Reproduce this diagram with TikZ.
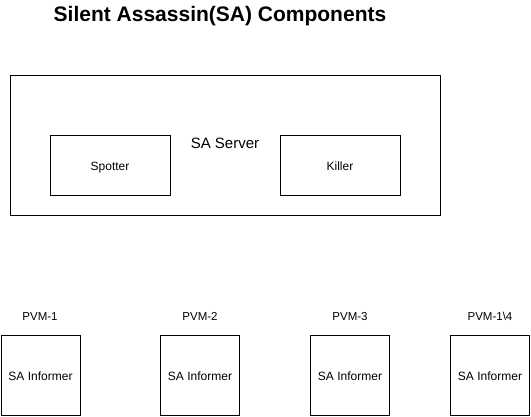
\documentclass[tikz,border=0pt]{standalone}
\usepackage{fontspec}
\setmainfont{Liberation Sans}
\usetikzlibrary{positioning}

\begin{document}
\begin{tikzpicture}[x=1pt,y=-1pt,
    box/.style={draw, line width=1pt, inner sep=0pt, text height=1.05em, text depth=0pt, font=\fontsize{12}{14}\selectfont},
    informer/.style={box, minimum width=79pt, minimum height=80pt},
    part/.style={box, minimum width=120pt, minimum height=60pt},
    tag/.style={inner sep=0pt, text height=0.72em, text depth=0.22em, font=\fontsize{11.5}{14}\selectfont}]
  \useasboundingbox (0,0) rectangle (531,416);

  \node[font=\bfseries\fontsize{21}{24}\selectfont] (title) at (220,16) {Silent Assassin(SA) Components};

  % server with its two parts
  \node[box, minimum width=430pt, minimum height=140pt] (server) at (225,145) {};
  \node[tag, font=\fontsize{15}{18}\selectfont] (srv) at (225,146) {SA Server};
  \node[part] (spotter) at (110,165) {Spotter};
  \node[part] (killer)  at (340,165) {Killer};

  % informers on the PVMs
  \node[informer] (inf1) at (40.5,375) {SA Informer};
  \node[informer] (inf2) at (200,375)  {SA Informer};
  \node[informer] (inf3) at (350,375)  {SA Informer};
  \node[informer] (inf4) at (490,375)  {SA Informer};

  \node[tag] (pvm1) at (40,318)  {PVM-1};
  \node[tag] (pvm2) at (200,318) {PVM-2};
  \node[tag] (pvm3) at (350,318) {PVM-3};
  \node[tag] (pvm4) at (490,318) {PVM-1\textbackslash 4};
\end{tikzpicture}
\end{document}
